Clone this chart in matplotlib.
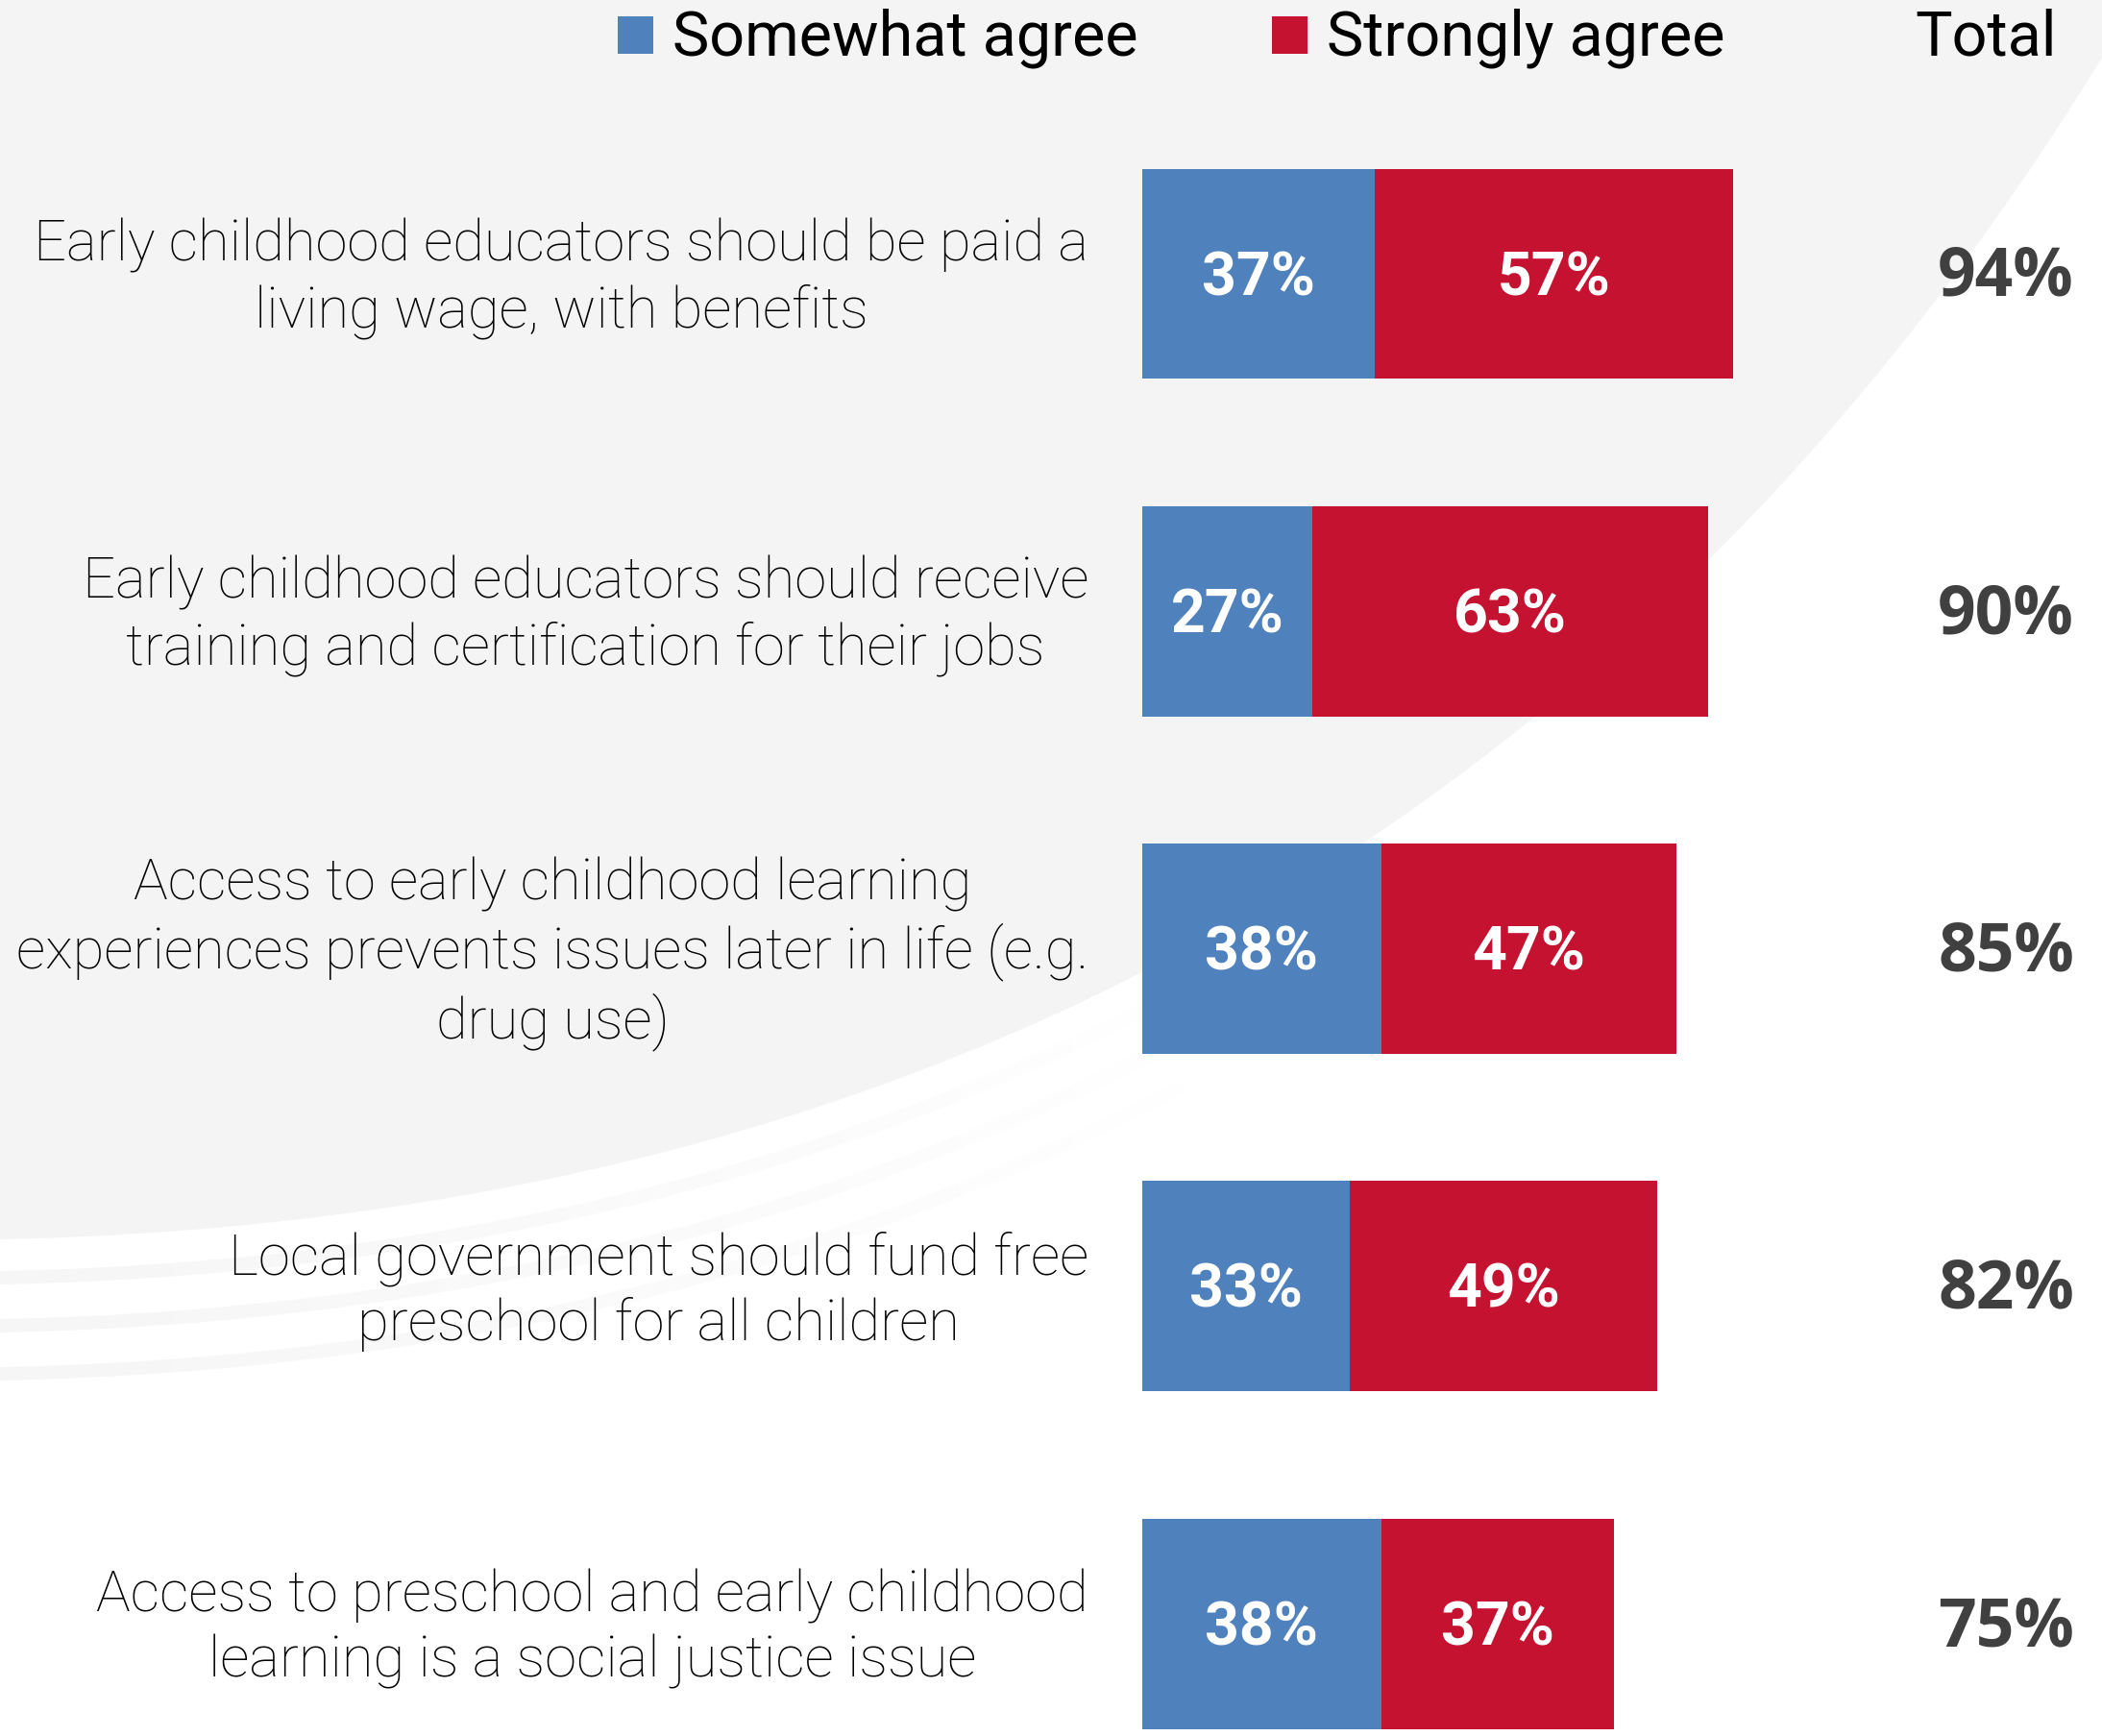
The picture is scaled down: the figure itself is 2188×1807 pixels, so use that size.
import matplotlib
matplotlib.use("Agg")
import matplotlib.pyplot as plt
from matplotlib.patches import Rectangle, Polygon
from matplotlib.collections import LineCollection
from matplotlib.transforms import blended_transform_factory, offset_copy
import numpy as np

# ===== data =====
statements = [
    "Early childhood educators should be paid a\nliving wage, with benefits",
    "Early childhood educators should receive\ntraining and certification for their jobs",
    "Access to early childhood learning\nexperiences prevents issues later in life (e.g.\ndrug use)",
    "Local government should fund free\npreschool for all children",
    "Access to preschool and early childhood\nlearning is a social justice issue",
]
somewhat = [37, 27, 38, 33, 38]
strongly = [57, 63, 47, 49, 37]
totals = [94, 90, 85, 82, 75]
series_names = ["Somewhat agree", "Strongly agree"]

BLUE = "#4F81BD"
RED = "#C41230"
W, H = 2188, 1807


def fx(px):
    return px / W


def fy(py):
    return 1 - py / H


fig = plt.figure(figsize=(W / 100, H / 100), dpi=100)
fig.patch.set_facecolor("#f4f4f4")

# background swoosh (white lower-right area), in its own axes behind everything
bg = fig.add_axes([0, 0, 1, 1], zorder=-1)
bg.set_xlim(0, W)
bg.set_ylim(H, 0)
bg.axis("off")
t = np.linspace(0, 1, 80)
p0, p1, p2 = np.array([0, 1290]), np.array([1450, 1260]), np.array([2188, 60])
curve = np.array([(1 - s) ** 2 * p0 + 2 * (1 - s) * s * p1 + s ** 2 * p2 for s in t])
pts = np.vstack([curve, [[W, H], [0, H]]])
bg.add_patch(Polygon(pts, closed=True, facecolor="white", edgecolor="none"))
# faint streaks at the lower left, fading out to the right
for dy in [40, 90, 140]:
    c = curve[:40] + np.array([0, dy])
    segs = np.stack([c[:-1], c[1:]], axis=1)
    alphas = np.linspace(1, 0, len(segs))
    cols = [(0.965, 0.965, 0.965, a) for a in alphas]
    bg.add_collection(LineCollection(segs, colors=cols, linewidths=10, capstyle="butt"))

# bar area: x=0 at px 1189, 6.54 px per percent; bar centres 285 + 351.3*i
x0 = 1189
ax = fig.add_axes([fx(x0), 0, 1 - fx(x0), 1], zorder=1)
ax.set_facecolor("none")
ax.set_xlim(0, (W - x0) / 6.54)
ax.set_ylim((H - 285) / 351.3, -285 / 351.3)
ax.axis("off")

y = np.arange(len(statements))
ax.barh(y, somewhat, height=0.623, color=BLUE, zorder=2)
ax.barh(y, strongly, left=somewhat, height=0.623, color=RED, zorder=2)

data_tr = offset_copy(ax.transData, fig=fig, y=-5, units="dots")
total_tr = offset_copy(ax.get_yaxis_transform(), fig=fig, y=-5, units="dots")
label_tr = offset_copy(blended_transform_factory(fig.transFigure, ax.transData),
                       fig=fig, y=-5, units="dots")
for i in range(len(statements)):
    ax.text(somewhat[i] / 2, y[i], f"{somewhat[i]}%", transform=data_tr,
            ha="center", va="center", color="white", fontsize=45,
            fontweight="bold", family="Roboto", zorder=3)
    ax.text(somewhat[i] + strongly[i] / 2, y[i], f"{strongly[i]}%", transform=data_tr,
            ha="center", va="center", color="white", fontsize=45,
            fontweight="bold", family="Roboto", zorder=3)
    ax.text(0.9, y[i], f"{totals[i]}%", transform=total_tr,
            ha="center", va="center", color="#404040", fontsize=50,
            fontweight="bold", family="Open Sans")
    # statement labels, right edge at px 1133
    ax.text(fx(1133), y[i], statements[i], transform=label_tr,
            ha="right", va="center", multialignment="center", color="black",
            fontsize=43, fontweight="light", family="Roboto", linespacing=1.25)

# legend row
for sx, tx, col, name in [(643, 700, BLUE, series_names[0]), (1324, 1381, RED, series_names[1])]:
    fig.patches.append(Rectangle((fx(sx), fy(56)), fx(37), 39 / H, transform=fig.transFigure,
                                 facecolor=col, edgecolor="none"))
    fig.text(fx(tx), fy(40), name, ha="left", va="center", fontsize=46.5,
             family="Roboto", color="black")
fig.text(fx(2067), fy(40), "Total", ha="center", va="center", fontsize=46.5,
         family="Roboto", color="black")

fig.savefig("out.png", dpi=100, facecolor=fig.get_facecolor())
